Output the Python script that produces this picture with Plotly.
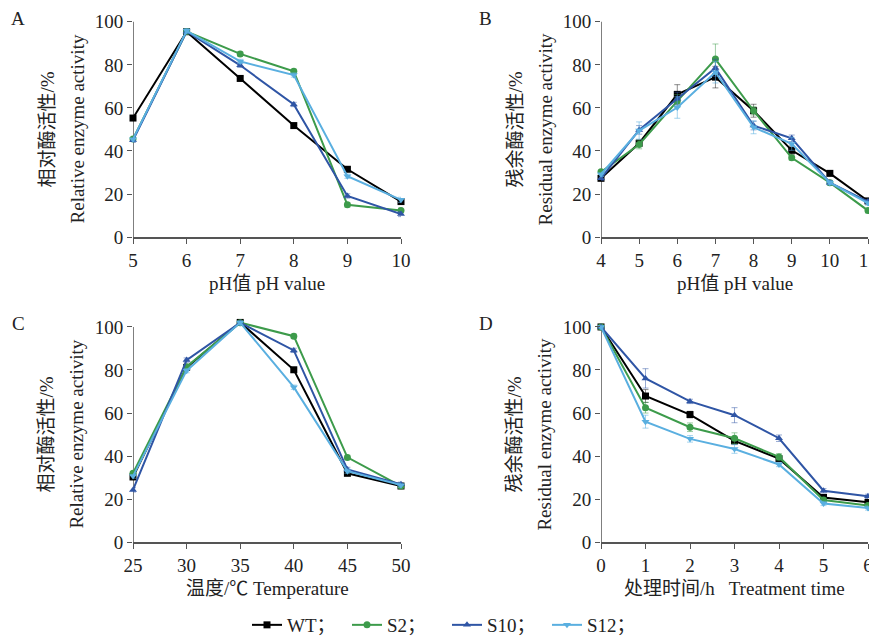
import plotly.graph_objects as go

# ---------------- data ----------------
series_names = ["WT", "S2", "S10", "S12"]
legend_labels = ["WT；", "S2；", "S10；", "S12；"]

# Panel A: relative activity vs pH
ph_a = [5, 6, 7, 8, 9, 10]
a_wt = [55.3, 95.4, 73.7, 51.8, 31.5, 16.5]
a_s2 = [45.6, 95.5, 85.1, 77.0, 15.0, 12.3]
a_s10 = [45.0, 95.5, 79.8, 61.6, 19.1, 10.7]
a_s12 = [45.5, 95.8, 81.6, 75.3, 28.3, 17.3]
a_err = [1.0, 1.0, 1.0, 1.0, 1.0, 1.2]

# Panel B: residual activity vs pH
ph_b = [4, 5, 6, 7, 8, 9, 10, 11]
b_wt = [27.3, 43.6, 66.3, 74.3, 58.7, 40.3, 29.6, 16.8]
b_s2 = [30.3, 43.0, 63.2, 82.7, 58.7, 36.8, 25.3, 12.3]
b_s10 = [27.3, 49.8, 64.3, 78.6, 51.8, 45.9, 25.3, 16.5]
b_s12 = [29.2, 49.5, 60.2, 76.6, 51.0, 43.3, 25.3, 15.8]
b_wt_err = [1.0, 1.5, 4.5, 5.0, 3.0, 2.0, 1.0, 1.0]
b_s2_err = [1.0, 2.0, 3.0, 7.0, 2.0, 1.0, 1.0, 1.0]
b_s10_err = [1.0, 2.0, 3.0, 4.0, 2.0, 1.5, 1.0, 1.0]
b_s12_err = [1.0, 4.0, 5.0, 5.0, 3.0, 3.0, 1.0, 1.0]

# Panel C: relative activity vs temperature
temp_c = [25, 30, 35, 40, 45, 50]
c_wt = [30.3, 81.2, 102.1, 80.1, 32.0, 26.1]
c_s2 = [32.0, 81.5, 102.0, 95.7, 39.4, 26.1]
c_s10 = [24.3, 84.6, 102.0, 89.1, 33.8, 26.9]
c_s12 = [30.7, 79.7, 102.0, 72.0, 33.0, 26.5]
c_err = [1.0, 1.0, 1.0, 1.0, 1.0, 1.0]

# Panel D: residual activity vs treatment time
time_d = [0, 1, 2, 3, 4, 5, 6]
d_wt = [100, 67.9, 59.3, 47.1, 38.8, 20.8, 18.5]
d_s2 = [100, 62.5, 53.4, 48.3, 39.6, 19.6, 17.0]
d_s10 = [100, 76.1, 65.4, 59.0, 48.3, 23.9, 21.3]
d_s12 = [100, 56.0, 48.0, 43.3, 36.1, 18.0, 15.9]
d_wt_err = [0.5, 3.0, 1.5, 1.5, 1.0, 1.0, 1.0]
d_s2_err = [0.5, 2.5, 2.0, 2.5, 1.5, 1.0, 1.0]
d_s10_err = [0.5, 4.5, 1.0, 3.5, 1.5, 1.0, 1.0]
d_s12_err = [0.5, 3.0, 1.5, 2.0, 1.0, 1.0, 1.0]

panel_letters = ["A", "B", "C", "D"]
x_titles = ["pH值 pH value", "pH值 pH value", "温度/℃ Temperature", "处理时间/h   Treatment time"]
y_titles_cn = ["相对酶活性/%", "残余酶活性/%", "相对酶活性/%", "残余酶活性/%"]
y_titles_en = ["Relative enzyme activity", "Residual enzyme activity",
               "Relative enzyme activity", "Residual enzyme activity"]
x_ranges = [[5, 10], [4, 11], [25, 50], [0, 6]]
x_dticks = [1, 1, 5, 1]

# ---------------- styles ----------------
colors = ["#000000", "#3d9b4b", "#2f55a5", "#5aafe0"]
err_colors = ["rgba(0,0,0,0.45)", "rgba(61,155,75,0.5)", "rgba(47,85,165,0.5)", "rgba(90,175,224,0.55)"]
symbols = ["square", "circle", "triangle-up", "triangle-down"]
FONT = "Liberation Serif, Times New Roman, Noto Sans CJK SC, serif"
TXT = "#222222"
AX = "#555555"

# page body has an 8px margin: figure placed at (8, 8)
OX, OY = 8, 8
W, H = 877 - OX, 644 - OY
YTOP = 103.0  # axis range top, so points slightly above 100 are not clipped


def px(x):
    return (x - OX) / W


def py(y):
    return 1 - (y - OY) / H


panels = [
    (ph_a, [a_wt, a_s2, a_s10, a_s12], [a_err] * 4),
    (ph_b, [b_wt, b_s2, b_s10, b_s12], [b_wt_err, b_s2_err, b_s10_err, b_s12_err]),
    (temp_c, [c_wt, c_s2, c_s10, c_s12], [c_err] * 4),
    (time_d, [d_wt, d_s2, d_s10, d_s12], [d_wt_err, d_s2_err, d_s10_err, d_s12_err]),
]

# pixel geometry of plot areas in the reference (left, right, y of 100, y of 0)
boxes = [(133, 401, 22, 240), (601, 868, 22, 240),
         (133, 401, 331, 549), (601, 868, 331, 549)]

fig = go.Figure()
for p, (xs, ys_list, errs) in enumerate(panels):
    suffix = "" if p == 0 else str(p + 1)
    for i, (ys, er) in enumerate(zip(ys_list, errs)):
        fig.add_trace(go.Scatter(
            x=xs, y=ys, mode="lines+markers",
            name=legend_labels[i], legendgroup=series_names[i],
            showlegend=(p == 0),
            line=dict(color=colors[i], width=2),
            marker=dict(symbol=symbols[i], size=7, color=colors[i]),
            error_y=dict(type="data", array=er, visible=True,
                         color=err_colors[i], thickness=1, width=3),
            cliponaxis=False,
            xaxis="x" + suffix, yaxis="y" + suffix,
        ))

layout = dict(
    width=W, height=H,
    margin=dict(l=0, r=0, t=0, b=0),
    paper_bgcolor="white", plot_bgcolor="white",
    font=dict(family=FONT, size=19, color=TXT),
    showlegend=True,
    legend=dict(orientation="h", x=px(247), xanchor="left",
                y=py(633), yanchor="middle",
                font=dict(family=FONT, size=19, color=TXT),
                itemwidth=30, entrywidth=55, tracegroupgap=0,
                bgcolor="rgba(0,0,0,0)"),
)

annotations = []
shapes = []
for p, (l, r, t, b) in enumerate(boxes):
    suffix = "" if p == 0 else str(p + 1)
    top_px = b - (b - t) * YTOP / 100.0
    layout["xaxis" + suffix] = dict(
        domain=[px(l), px(r)], anchor="y" + suffix, range=x_ranges[p],
        dtick=x_dticks[p], tick0=x_ranges[p][0],
        showline=True, linecolor=AX, linewidth=1.5, showgrid=False, zeroline=False,
        ticks="outside", ticklen=5, tickcolor=AX, tickwidth=1.2,
        tickfont=dict(family=FONT, size=19, color=TXT), automargin=False,
        ticklabeloverflow="allow",
    )
    layout["yaxis" + suffix] = dict(
        domain=[py(b), py(top_px)], anchor="x" + suffix, range=[0, YTOP],
        tickvals=[0, 20, 40, 60, 80, 100],
        showline=False, showgrid=False, zeroline=False,
        ticks="outside", ticklen=5, tickcolor=AX, tickwidth=1.2,
        tickfont=dict(family=FONT, size=19, color=TXT), automargin=False,
        ticklabeloverflow="allow",
    )
    # y axis line from 0 to 100 only
    shapes.append(dict(type="line", xref="x" + suffix, yref="y" + suffix,
                       x0=x_ranges[p][0], x1=x_ranges[p][0], y0=0, y1=100,
                       line=dict(color=AX, width=1.5), layer="below"))
    cx = (l + r) / 2
    cy = (t + b) / 2
    annotations.append(dict(text=x_titles[p], x=px(cx), y=py(b + 47),
                            xref="paper", yref="paper", showarrow=False,
                            xanchor="center", yanchor="middle",
                            font=dict(family=FONT, size=19, color=TXT)))
    annotations.append(dict(text=y_titles_cn[p], x=px(l - 86), y=py(cy),
                            xref="paper", yref="paper", showarrow=False, textangle=-90,
                            xanchor="center", yanchor="middle",
                            font=dict(family=FONT, size=19, color=TXT)))
    annotations.append(dict(text=y_titles_en[p], x=px(l - 56), y=py(cy),
                            xref="paper", yref="paper", showarrow=False, textangle=-90,
                            xanchor="center", yanchor="middle",
                            font=dict(family=FONT, size=19, color=TXT)))
    annotations.append(dict(text=panel_letters[p], x=px(l - 115), y=py(t - 3),
                            xref="paper", yref="paper", showarrow=False,
                            xanchor="center", yanchor="middle",
                            font=dict(family=FONT, size=19, color=TXT)))

layout["annotations"] = annotations
layout["shapes"] = shapes
fig.update_layout(**layout)
fig.write_html("out.html")
